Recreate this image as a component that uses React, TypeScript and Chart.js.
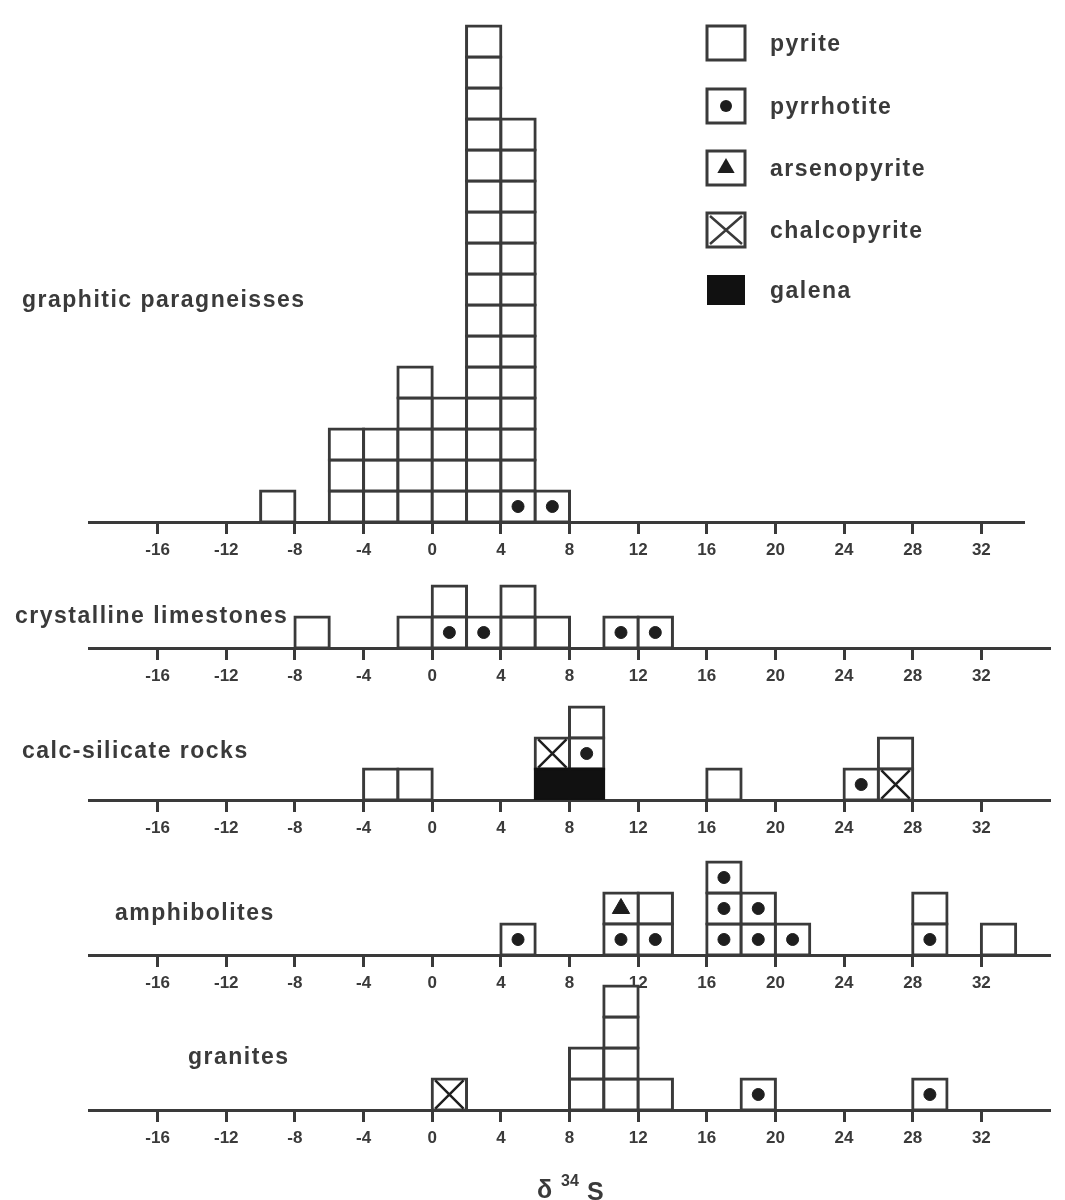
import { useEffect, useRef } from "react";
import { Chart, registerables } from "chart.js";

Chart.register(...registerables);

// δ34S axis (‰)
const tickValues = [-16, -12, -8, -4, 0, 4, 8, 12, 16, 20, 24, 28, 32];
const X_MIN = -20;
const X_MAX = 36;
const BIN_WIDTH = 2;

// Stacking order inside a column, bottom to top
const mineralOrder = ["galena", "chalcopyrite", "pyrrhotite", "arsenopyrite", "pyrite"];
const legendMinerals = ["pyrite", "pyrrhotite", "arsenopyrite", "chalcopyrite", "galena"];

// graphitic paragneisses: lower bin edges and sample counts
const gneissBins = [-10, -6, -4, -2, 0, 2, 4, 6];
const gneissPyrite = [1, 3, 3, 5, 4, 16, 12, 0];
const gneissPyrrhotite = [0, 0, 0, 0, 0, 0, 1, 1];

// crystalline limestones
const limestoneBins = [-8, -2, 0, 2, 4, 6, 10, 12];
const limestonePyrite = [1, 1, 1, 0, 2, 1, 0, 0];
const limestonePyrrhotite = [0, 0, 1, 1, 0, 0, 1, 1];

// calc-silicate rocks
const calcBins = [-4, -2, 6, 8, 16, 24, 26];
const calcPyrite = [1, 1, 0, 1, 1, 0, 1];
const calcPyrrhotite = [0, 0, 0, 1, 0, 1, 0];
const calcChalcopyrite = [0, 0, 1, 0, 0, 0, 1];
const calcGalena = [0, 0, 1, 1, 0, 0, 0];

// amphibolites
const amphBins = [4, 10, 12, 16, 18, 20, 28, 32];
const amphPyrite = [0, 0, 1, 0, 0, 0, 1, 1];
const amphPyrrhotite = [1, 1, 1, 3, 2, 1, 1, 0];
const amphArsenopyrite = [0, 1, 0, 0, 0, 0, 0, 0];

// granites
const graniteBins = [0, 8, 10, 12, 18, 28];
const granitePyrite = [0, 2, 4, 1, 0, 0];
const granitePyrrhotite = [0, 0, 0, 0, 1, 1];
const graniteChalcopyrite = [1, 0, 0, 0, 0, 0];

const INK = "#3a3a3a";
const MARK = "#1e1e1e";
const GALENA = "#111111";
const UNIT_PX = 31;
const X_UNIT_PX = 961 / (X_MAX - X_MIN);
const PAD_LEFT = 89;
const TOP_PAD = 4;
const AXIS_H = 40;
const HEADROOM = 4;
const PAGE_W = 1065;
const LABEL_FONT = "bold 23px 'Liberation Sans', Arial, sans-serif";

const markerStyles: Record<string, { pointStyle: string; radius: number; borderWidth: number }> = {
  pyrrhotite: { pointStyle: "circle", radius: 6, borderWidth: 1 },
  arsenopyrite: { pointStyle: "triangle", radius: 10, borderWidth: 1 },
  chalcopyrite: { pointStyle: "crossRot", radius: 20, borderWidth: 2.5 },
};

type PanelSpec = {
  title: string;
  bins: number[];
  counts: Record<string, number[]>;
  baseline: number;
  levels: number;
  titleX: number;
  titleY: number;
  xMax: number;
  legend?: boolean;
  footer?: number;
  axisTitle?: boolean;
};

const panels: PanelSpec[] = [
  {
    title: "graphitic paragneisses",
    bins: gneissBins,
    counts: { pyrite: gneissPyrite, pyrrhotite: gneissPyrrhotite },
    baseline: 522,
    levels: 16,
    titleX: 22,
    titleY: 307,
    xMax: 34.5,
    legend: true,
  },
  {
    title: "crystalline limestones",
    bins: limestoneBins,
    counts: { pyrite: limestonePyrite, pyrrhotite: limestonePyrrhotite },
    baseline: 648,
    levels: 2,
    titleX: 15,
    titleY: 623,
    xMax: X_MAX,
  },
  {
    title: "calc-silicate rocks",
    bins: calcBins,
    counts: {
      pyrite: calcPyrite,
      pyrrhotite: calcPyrrhotite,
      chalcopyrite: calcChalcopyrite,
      galena: calcGalena,
    },
    baseline: 800,
    levels: 3,
    titleX: 22,
    titleY: 758,
    xMax: X_MAX,
  },
  {
    title: "amphibolites",
    bins: amphBins,
    counts: { pyrite: amphPyrite, pyrrhotite: amphPyrrhotite, arsenopyrite: amphArsenopyrite },
    baseline: 955,
    levels: 3,
    titleX: 115,
    titleY: 920,
    xMax: X_MAX,
  },
  {
    title: "granites",
    bins: graniteBins,
    counts: { pyrite: granitePyrite, pyrrhotite: granitePyrrhotite, chalcopyrite: graniteChalcopyrite },
    baseline: 1110,
    levels: 4,
    titleX: 188,
    titleY: 1064,
    xMax: X_MAX,
    footer: 50,
    axisTitle: true,
  },
];

// One floating bar per sample box, stacked column by column
function buildDatasets(bins: number[], counts: Record<string, number[]>) {
  const boxes: Record<string, { x: number; y: [number, number] }[]> = {};
  const marks: Record<string, { x: number; y: number }[]> = {};
  mineralOrder.forEach((m) => {
    boxes[m] = [];
    marks[m] = [];
  });
  bins.forEach((edge, i) => {
    let level = 0;
    const center = edge + BIN_WIDTH / 2;
    mineralOrder.forEach((m) => {
      const n = counts[m] ? counts[m][i] : 0;
      for (let k = 0; k < n; k++) {
        boxes[m].push({ x: center, y: [level, level + 1] });
        marks[m].push({ x: center, y: level + 0.5 });
        level++;
      }
    });
  });

  const datasets: any[] = [];
  mineralOrder.forEach((m) => {
    if (!boxes[m].length) return;
    const isGalena = m === "galena";
    datasets.push({
      type: "bar",
      label: m,
      data: boxes[m],
      backgroundColor: isGalena ? GALENA : "#ffffff",
      borderColor: isGalena ? GALENA : INK,
      borderWidth: 3,
      inflateAmount: 1.5,
      borderSkipped: false,
      grouped: false,
      barPercentage: 1,
      categoryPercentage: 1,
      order: 2,
    });
    const st = markerStyles[m];
    if (st) {
      datasets.push({
        type: "scatter",
        label: m + " symbol",
        data: marks[m],
        pointStyle: st.pointStyle,
        pointRadius: st.radius,
        pointBorderWidth: st.borderWidth,
        backgroundColor: MARK,
        borderColor: MARK,
        order: 1,
      });
    }
  });
  return datasets;
}

function drawLegendSymbol(ctx: CanvasRenderingContext2D, m: string, x: number, cy: number) {
  const w = 38;
  const h = 34;
  const y = cy - h / 2;
  if (m === "galena") {
    ctx.fillStyle = GALENA;
    ctx.fillRect(x, cy - 15, w, 30);
    return;
  }
  ctx.lineWidth = 3;
  ctx.strokeStyle = INK;
  ctx.strokeRect(x, y, w, h);
  ctx.fillStyle = MARK;
  const cx = x + w / 2;
  if (m === "pyrrhotite") {
    ctx.beginPath();
    ctx.arc(cx, cy, 6, 0, Math.PI * 2);
    ctx.fill();
  } else if (m === "arsenopyrite") {
    const r = 10;
    ctx.beginPath();
    ctx.moveTo(cx, cy - r);
    ctx.lineTo(cx + r * Math.sin((2 * Math.PI) / 3), cy - r * Math.cos((2 * Math.PI) / 3));
    ctx.lineTo(cx + r * Math.sin((4 * Math.PI) / 3), cy - r * Math.cos((4 * Math.PI) / 3));
    ctx.closePath();
    ctx.fill();
  } else if (m === "chalcopyrite") {
    ctx.lineWidth = 2.5;
    ctx.beginPath();
    ctx.moveTo(x + 3, y + 3);
    ctx.lineTo(x + w - 3, y + h - 3);
    ctx.moveTo(x + w - 3, y + 3);
    ctx.lineTo(x + 3, y + h - 3);
    ctx.stroke();
  }
}

const legendRowsY = [43, 106, 168, 230, 290];

// Panel caption, legend and δ34S axis caption
const annotatePlugin = {
  id: "annotate",
  afterDraw(chart: any, _args: any, opts: any) {
    const ctx: CanvasRenderingContext2D = chart.ctx;
    const dy = opts.offsetY;
    ctx.save();
    ctx.fillStyle = INK;
    ctx.textBaseline = "alphabetic";
    ctx.textAlign = "left";
    ctx.font = LABEL_FONT;
    (ctx as any).letterSpacing = "1.5px";
    ctx.fillText(opts.title, opts.titleX, opts.titleY - dy);

    if (opts.legend) {
      legendMinerals.forEach((m, i) => {
        const cy = legendRowsY[i] - dy;
        drawLegendSymbol(ctx, m, 707, cy);
        ctx.fillStyle = INK;
        ctx.font = LABEL_FONT;
        ctx.fillText(m, 770, cy + 8);
      });
    }

    if (opts.axisTitle) {
      (ctx as any).letterSpacing = "0px";
      ctx.fillStyle = INK;
      ctx.font = "bold 25px 'Liberation Sans', Arial, sans-serif";
      ctx.fillText("δ", 537, 1198 - dy);
      ctx.font = "bold 16px 'Liberation Sans', Arial, sans-serif";
      ctx.fillText("34", 561, 1186 - dy);
      ctx.font = "bold 25px 'Liberation Sans', Arial, sans-serif";
      ctx.fillText("S", 587, 1200 - dy);
    }
    ctx.restore();
  },
};

function panelGeometry(spec: PanelSpec) {
  const chartPx = spec.levels * UNIT_PX + HEADROOM;
  const footer = spec.footer || 0;
  const top = spec.baseline - chartPx - TOP_PAD;
  const height = TOP_PAD + chartPx + AXIS_H + footer;
  const padRight = PAGE_W - PAD_LEFT - (spec.xMax - X_MIN) * X_UNIT_PX;
  return { chartPx, footer, top, height, padRight };
}

function HistogramPanel({ spec }: { spec: PanelSpec }) {
  const ref = useRef<HTMLCanvasElement>(null);
  const geo = panelGeometry(spec);

  useEffect(() => {
    const canvas = ref.current;
    if (!canvas) return;
    const chart = new Chart(canvas, {
      type: "bar",
      data: { datasets: buildDatasets(spec.bins, spec.counts) },
      plugins: [annotatePlugin],
      options: {
        animation: false,
        responsive: false,
        devicePixelRatio: 1,
        events: [],
        layout: {
          autoPadding: false,
          padding: { left: PAD_LEFT, right: geo.padRight, top: TOP_PAD, bottom: geo.footer },
        },
        scales: {
          x: {
            type: "linear",
            min: X_MIN,
            max: spec.xMax,
            offset: false,
            afterBuildTicks: (axis: any) => {
              axis.ticks = tickValues.map((v) => ({ value: v }));
            },
            afterFit: (axis: any) => {
              axis.height = AXIS_H;
            },
            grid: {
              display: true,
              offset: false,
              drawOnChartArea: false,
              drawTicks: true,
              tickLength: 12,
              tickWidth: 3,
              tickColor: INK,
              color: INK,
            },
            border: { display: true, color: INK, width: 3 },
            ticks: {
              autoSkip: false,
              maxRotation: 0,
              padding: 6,
              color: INK,
              font: { family: "'Liberation Sans', Arial, sans-serif", size: 17, weight: "bold" },
            },
          },
          y: {
            display: false,
            min: 0,
            max: geo.chartPx / UNIT_PX,
          },
        },
        plugins: {
          legend: { display: false },
          tooltip: { enabled: false },
          annotate: {
            offsetY: geo.top,
            title: spec.title,
            titleX: spec.titleX,
            titleY: spec.titleY,
            legend: !!spec.legend,
            axisTitle: !!spec.axisTitle,
          },
        } as any,
      },
    } as any);
    return () => chart.destroy();
  }, []);

  return (
    <canvas
      ref={ref}
      width={PAGE_W}
      height={geo.height}
      style={{ position: "absolute", left: 0, top: geo.top, width: PAGE_W, height: geo.height }}
    />
  );
}

export default function App() {
  return (
    <div
      style={{
        position: "absolute",
        left: 0,
        top: 0,
        width: PAGE_W,
        height: 1200,
        background: "#ffffff",
        overflow: "hidden",
      }}
    >
      {panels.map((p) => (
        <HistogramPanel key={p.title} spec={p} />
      ))}
    </div>
  );
}
